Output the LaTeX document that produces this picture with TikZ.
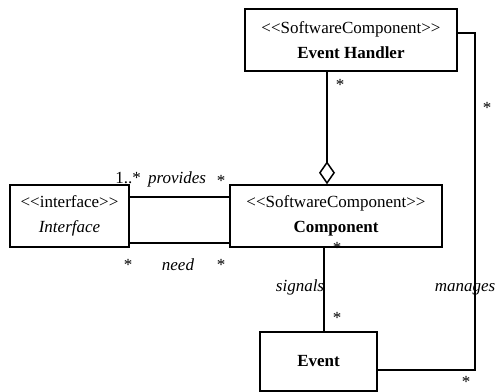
\documentclass[tikz,border=0pt]{standalone}
\usepackage{fontspec}
\setmainfont{Liberation Serif}
\usetikzlibrary{arrows.meta}
\newcommand{\stereo}[1]{<\kern0pt<#1>\kern0pt>}
\begin{document}
\begin{tikzpicture}[x=1pt,y=-1pt,line width=1.5pt,
    every node/.style={font=\fontsize{17}{25}\selectfont},
    box/.style={draw,rectangle,align=center,inner sep=0pt},
    lbl/.style={anchor=base,inner sep=0pt}]
  \useasboundingbox (0,0) rectangle (497,391);
  \node[box,minimum width=212pt,minimum height=62pt] (handler) at (351,40)
    {\stereo{SoftwareComponent}\\\textbf{Event Handler}};
  \node[box,minimum width=212pt,minimum height=62pt] (comp) at (336,216)
    {\stereo{SoftwareComponent}\\\textbf{Component}};
  \node[box,minimum width=119pt,minimum height=62pt] (iface) at (69.5,216)
    {\stereo{interface}\\\textit{Interface}};
  \node[box,minimum width=117pt,minimum height=59pt] (event) at (318.5,361.5)
    {\textbf{Event}};
  \begin{scope}[-]
    \draw ([yshift=19pt]iface.east) to ([yshift=19pt]comp.west);
    \draw ([yshift=-27pt]iface.east) to ([yshift=-27pt]comp.west);
    \draw[-{Diamond[open,width=16pt,length=23pt]}] ([xshift=-24pt]handler.south) to ([xshift=-9pt]comp.north);
    \draw ([xshift=-12pt]comp.south) to ([xshift=-12pt]comp.south |- event.north);
    \draw ([yshift=7pt]handler.east) -- ++(17,0) |- ([yshift=-8.5pt]event.east);
  \end{scope}
  \node[lbl] (m1) at (128,183) {1..*};
  \node[lbl] (prov) at (177,183) {\textit{provides}};
  \node[lbl] (m2) at (221,186) {*};
  \node[lbl] (m3) at (128,270) {*};
  \node[lbl] (need) at (178,270) {\textit{need}};
  \node[lbl] (m4) at (221,270) {*};
  \node[lbl] (m5) at (340,90) {*};
  \node[lbl] (m6) at (487,113) {*};
  \node[lbl] (m7) at (337,253) {*};
  \node[lbl] (sig) at (300,291) {\textit{signals}};
  \node[lbl] (m8) at (337,323) {*};
  \node[lbl] (man) at (465,291) {\textit{manages}};
  \node[lbl] (m9) at (466,387) {*};
\end{tikzpicture}
\end{document}
